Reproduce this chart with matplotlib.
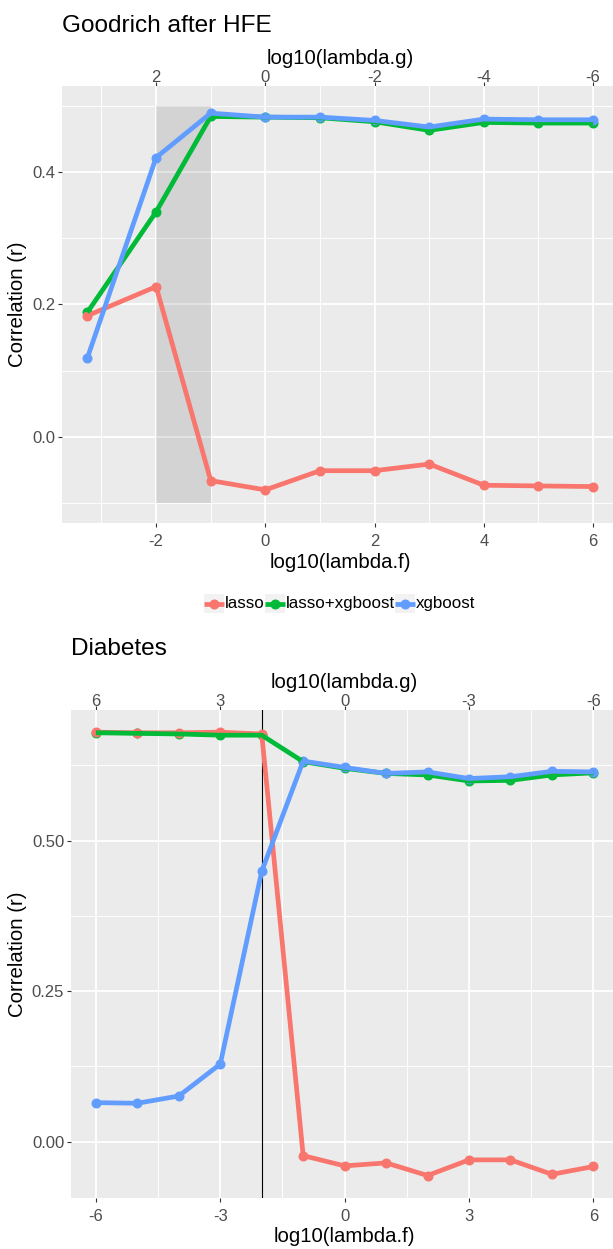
import matplotlib
matplotlib.use("Agg")
from matplotlib import pyplot as plt
from matplotlib.lines import Line2D
from matplotlib.patches import Rectangle

plt.rcParams['font.family'] = ['Liberation Sans', 'DejaVu Sans']
plt.rcParams['axes.unicode_minus'] = False

series = ['lasso', 'lasso+xgboost', 'xgboost']
colors = ['#F8766D', '#00BA38', '#619CFF']

# Goodrich after HFE
goodrich_f = [-3.26, -2, -1, 0, 1, 2, 3, 4, 5, 6]
goodrich_lasso = [0.183, 0.227, -0.066, -0.080, -0.051, -0.051, -0.041, -0.073, -0.074, -0.075]
goodrich_combo = [0.188, 0.340, 0.484, 0.483, 0.482, 0.476, 0.463, 0.475, 0.474, 0.474]
goodrich_xgb = [0.119, 0.422, 0.489, 0.483, 0.483, 0.478, 0.468, 0.480, 0.479, 0.479]
goodrich_band = (-2, -1, -0.1, 0.5)

# Diabetes
diab_f = [-6, -5, -4, -3, -2, -1, 0, 1, 2, 3, 4, 5, 6]
diab_lasso = [0.680, 0.679, 0.679, 0.680, 0.677, -0.023, -0.040, -0.035, -0.056, -0.030, -0.030, -0.054, -0.041]
diab_combo = [0.679, 0.678, 0.677, 0.675, 0.675, 0.631, 0.620, 0.6115, 0.609, 0.599, 0.600, 0.609, 0.6125]
diab_xgb = [0.065, 0.064, 0.076, 0.129, 0.449, 0.632, 0.6215, 0.6115, 0.614, 0.603, 0.606, 0.615, 0.614]
diab_vline = -2

W, H = 613, 1249
fig = plt.figure(figsize=(W / 100, H / 100), dpi=100)

TICK = 2.7      # pt
TICKFS = 12.0
LABFS = 14.7


def expand(lo, hi, f=0.05):
    d = (hi - lo) * f
    return lo - d, hi + d


def style_panel(ax, xmajor, xminor, ymajor, yminor, ylabels, gticks):
    ax.set_facecolor('#EBEBEB')
    for s in ax.spines.values():
        s.set_visible(False)
    ax.set_xticks(xmajor)
    ax.set_xticks(xminor, minor=True)
    ax.set_yticks(ymajor)
    ax.set_yticks(yminor, minor=True)
    ax.set_yticklabels(ylabels)
    ax.grid(which='major', color='white', lw=1.3)
    ax.grid(which='minor', color='white', lw=0.65)
    ax.set_axisbelow(True)
    ax.tick_params(which='major', length=TICK, width=0.8, color='#333333',
                   labelcolor='#4D4D4D', labelsize=TICKFS, pad=2.2)
    ax.tick_params(axis='x', which='major', pad=5.1)
    ax.tick_params(which='minor', length=0)
    ax.set_xlabel('log10(lambda.f)', fontsize=LABFS, labelpad=2.7)
    ax.set_ylabel('Correlation (r)', fontsize=LABFS, labelpad=3.3)
    sec = ax.secondary_xaxis('top', functions=(lambda x: -x, lambda x: -x))
    sec.set_xticks(gticks)
    for s in sec.spines.values():
        s.set_visible(False)
    sec.tick_params(length=TICK, width=0.8, color='#333333',
                    labelcolor='#4D4D4D', labelsize=TICKFS, pad=-2.2)
    sec.set_xlabel('log10(lambda.g)', fontsize=LABFS, labelpad=4.4)


def draw_lines(ax, x, ys):
    # points under the lines, lasso points on top of the other points
    for y, c, zp in zip(ys, colors, [2.9, 2.7, 2.8]):
        ax.plot(x, y, ls='none', marker='o', ms=6.2, color=c, mec=c, zorder=zp)
    for y, c in zip(ys, colors):
        ax.plot(x, y, color=c, lw=3.4, solid_capstyle='butt', zorder=3)


# top panel
ax1 = fig.add_axes([62 / W, 1 - 523 / H, (618.4 - 62) / W, 437 / H])
x0, x1, y0, y1 = goodrich_band
ax1.fill_between([x0, x1], [y0, y0], [y1, y1], color='black', alpha=0.1, lw=0, zorder=2)
draw_lines(ax1, goodrich_f, [goodrich_lasso, goodrich_combo, goodrich_xgb])
ax1.set_xlim(*expand(min(goodrich_f), max(goodrich_f)))
ax1.set_ylim(*expand(y0, y1))
style_panel(ax1, [-2, 0, 2, 4, 6], [-3, -1, 1, 3, 5],
            [0.0, 0.2, 0.4], [-0.1, 0.1, 0.3, 0.5], ['0.0', '0.2', '0.4'],
            [2, 0, -2, -4, -6])
fig.text(62 / W, 1 - 31.5 / H, 'Goodrich after HFE', fontsize=17.6, va='baseline', ha='left')

# bottom panel
ax2 = fig.add_axes([71 / W, 1 - 1197.7 / H, (618.3 - 71) / W, 487.7 / H])
draw_lines(ax2, diab_f, [diab_lasso, diab_combo, diab_xgb])
ax2.axvline(diab_vline, color='black', lw=0.8, zorder=2.5)
allv = diab_lasso + diab_combo + diab_xgb
ax2.set_xlim(*expand(min(diab_f), max(diab_f)))
ax2.set_ylim(*expand(min(allv), max(allv)))
style_panel(ax2, [-6, -3, 0, 3, 6], [-4.5, -1.5, 1.5, 4.5],
            [0.0, 0.25, 0.5], [0.125, 0.375, 0.625], ['0.00', '0.25', '0.50'],
            [6, 3, 0, -3, -6])
fig.text(71 / W, 1 - 655 / H, 'Diabetes', fontsize=17.6, va='baseline', ha='left')

# legend between the panels, ggplot style keys
renderer = fig.canvas.get_renderer()
key_w, key_h, gap = 19.5, 18.5, 1.5
leg_y = 603.5
texts = [fig.text(0, 1 - leg_y / H, s, fontsize=12.2, va='center', ha='left') for s in series]
widths = [t.get_window_extent(renderer).width for t in texts]
total = sum(key_w + gap + w for w in widths)
x = 340 - total / 2
for t, w, c in zip(texts, widths, colors):
    fig.add_artist(Rectangle((x / W, 1 - (leg_y + key_h / 2) / H), key_w / W, key_h / H,
                             transform=fig.transFigure, facecolor='#F2F2F2', edgecolor='none'))
    fig.add_artist(Line2D([x / W, (x + key_w) / W], [1 - leg_y / H] * 2, transform=fig.transFigure,
                          color=c, lw=3.4, solid_capstyle='butt'))
    fig.add_artist(Line2D([(x + key_w / 2) / W], [1 - leg_y / H], transform=fig.transFigure,
                          color=c, marker='o', ms=6.2, ls='none'))
    t.set_x((x + key_w + gap) / W)
    x += key_w + gap + w

fig.savefig('out.png', dpi=100)
